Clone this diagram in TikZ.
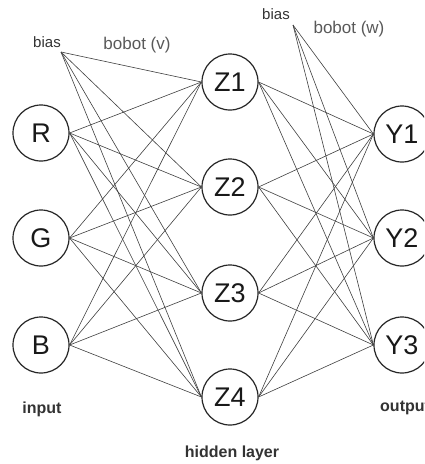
\documentclass[tikz,border=0pt]{standalone}
\usepackage{fontspec}
\setmainfont{Liberation Sans}
\begin{document}
\begin{tikzpicture}[x=1pt,y=-1pt,
  neuron/.style={circle,draw=black!85,line width=1.2pt,minimum size=56pt,inner sep=0pt,
    text=black!90,font=\fontsize{27}{27}\selectfont},
  link/.style={draw=black!75,line width=0.6pt},
  lbl/.style={text=black!80,font=\fontsize{15}{15}\selectfont,inner sep=0pt},
  caption/.style={text=black!80,font=\bfseries\fontsize{16}{16}\selectfont,inner sep=0pt}]
\useasboundingbox (0,0) rectangle (424,464);
\clip (0,0) rectangle (424,464);
\fill[white] (0,0) rectangle (424,464);

% input layer
\node[neuron] (R) at (41,133) {R};
\node[neuron] (G) at (41,238) {G};
\node[neuron] (B) at (41,345) {B};
% hidden layer
\node[neuron] (Z1) at (230,82) {Z1};
\node[neuron] (Z2) at (230,187) {Z2};
\node[neuron] (Z3) at (230,293) {Z3};
\node[neuron] (Z4) at (230,397) {Z4};
% output layer
\node[neuron] (Y1) at (402,134) {Y1};
\node[neuron] (Y2) at (402,238) {Y2};
\node[neuron] (Y3) at (402,345) {Y3};

% bias points
\coordinate (bv) at (61,52);
\coordinate (bw) at (293,25);

% weights v: input and bias to hidden
\foreach \i in {R,G,B}{
  \foreach \h in {Z1,Z2,Z3,Z4}{
    \draw[link] (\i.east) -- (\h.west);
  }
}
\foreach \h in {Z1,Z2,Z3,Z4}{
  \draw[link] (bv) -- (\h.west);
}
% weights w: hidden and bias to output
\foreach \h in {Z1,Z2,Z3,Z4}{
  \foreach \o in {Y1,Y2,Y3}{
    \draw[link] (\h.east) -- (\o.west);
  }
}
\foreach \o in {Y1,Y2,Y3}{
  \draw[link] (bw) -- (\o.west);
}

% labels
\node[lbl] (biasv) at (47,42) {bias};
\node[lbl,text=black!65,font=\fontsize{17}{17}\selectfont] (bobotv) at (137,45) {bobot (v)};
\node[lbl] (biasw) at (276,14) {bias};
\node[lbl,text=black!65,font=\fontsize{17}{17}\selectfont] (bobotw) at (349,29) {bobot (w)};
\node[caption] (input) at (42,409) {input};
\node[caption] (hidden) at (232,453) {hidden layer};
\node[caption,anchor=west] (output) at (380,408) {output};
\end{tikzpicture}
\end{document}
